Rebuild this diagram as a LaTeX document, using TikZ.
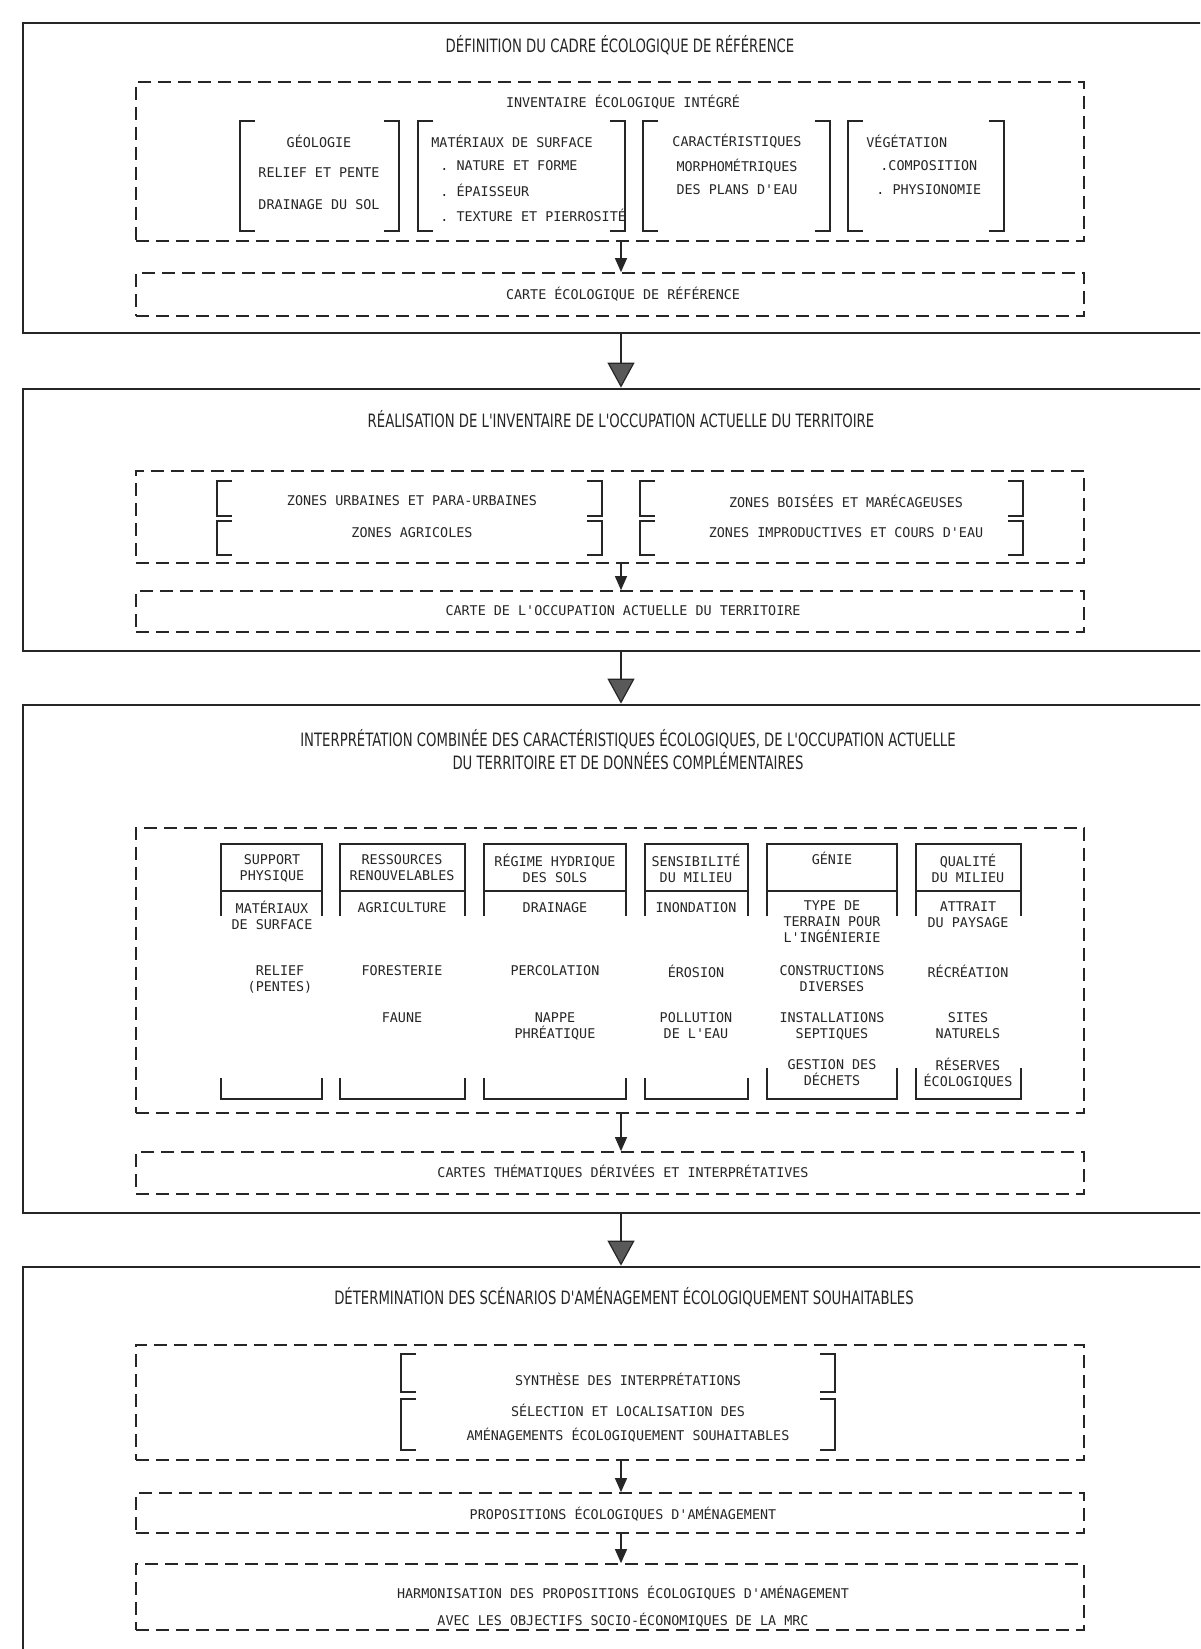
\documentclass[tikz,border=0pt]{standalone}
\usepackage{fontspec}
\setmonofont{DejaVu Sans Mono}
\newfontfamily\titlefont[FakeStretch=0.72]{DejaVu Sans}
\usetikzlibrary{arrows.meta,fit}

\colorlet{ink}{black!85}
\tikzset{
  stage/.style={draw=ink,line width=1.4pt,inner sep=0pt},
  dashbox/.style={draw=ink,line width=0.85pt,dash pattern=on 6.5pt off 3.5pt,inner sep=0pt},
  stagetitle/.style={font=\titlefont\fontsize{9.2}{11.5}\selectfont,text=ink,align=center,inner sep=0pt},
  txt/.style={font=\ttfamily\fontsize{6.7}{8}\selectfont,text=ink,align=center,inner sep=0pt},
  brk/.style={draw=ink,line width=0.75pt},
  flow/.style={draw=ink,line width=0.6pt,-{Triangle[length=7pt,width=6pt]}},
  bigflow/.style={draw=ink,line width=0.6pt,-{Triangle[length=12.5pt,width=13.5pt,fill=black!65]}},
}

% [ ... ] pair: left x, right x, top y, bottom y
\newcommand{\brackets}[4]{%
  \draw[brk] (#1+15,#3) -- (#1,#3) -- (#1,#4) -- (#1+15,#4);
  \draw[brk] (#2-15,#3) -- (#2,#3) -- (#2,#4) -- (#2-15,#4);}

% theme column: left x, right x, top of the lower stubs
\newcommand{\themecol}[3]{%
  \draw[brk] (#1,916) -- (#1,844) -- (#2,844) -- (#2,916);
  \draw[brk] (#1,891) -- (#2,891);
  \draw[brk] (#1,#3) -- (#1,1099) -- (#2,1099) -- (#2,#3);}

\begin{document}
\begin{tikzpicture}[x=0.5pt,y=-0.5pt]
  \clip (0,0) rectangle (1200,1649);
  \fill[white] (0,0) rectangle (1200,1649);
  \coordinate (axis) at (621,0);

  % stage 1
  \node[stage,fit={(23,23) (1210,333)}] (def) {};
  \node[stagetitle] (deft) at (620,45) {DÉFINITION DU CADRE ÉCOLOGIQUE DE RÉFÉRENCE};
  \node[dashbox,fit={(136,82) (1084,241)}] (inv) {};
  \node[txt] (invt) at (623,102) {INVENTAIRE ÉCOLOGIQUE INTÉGRÉ};
  \brackets{240}{399}{121}{231}
  \brackets{418}{625}{121}{231}
  \brackets{643}{830}{121}{231}
  \brackets{848}{1004}{121}{231}
  \node[txt] (geo) at (319,141) {GÉOLOGIE};
  \node[txt] (rel) at (319,173) {RELIEF ET PENTE};
  \node[txt] (drn) at (319,205) {DRAINAGE DU SOL};
  \node[txt,anchor=west] (mat) at (431,141) {MATÉRIAUX DE SURFACE};
  \node[txt,anchor=west] (nat) at (440,166) {. NATURE ET FORME};
  \node[txt,anchor=west] (epa) at (440,190) {. ÉPAISSEUR};
  \node[txt,anchor=west] (tex) at (440,215) {. TEXTURE ET PIERROSITÉ};
  \node[txt] (car) at (737,141) {CARACTÉRISTIQUES};
  \node[txt] (mor) at (737,166) {MORPHOMÉTRIQUES};
  \node[txt] (pla) at (737,190) {DES PLANS D'EAU};
  \node[txt,anchor=west] (veg) at (866,141) {VÉGÉTATION};
  \node[txt,anchor=west] (com) at (880,166) {.COMPOSITION};
  \node[txt,anchor=west] (phy) at (876,190) {. PHYSIONOMIE};
  \node[dashbox,fit={(136,273) (1084,316)}] (map1) {};
  \node[txt] (map1t) at (623,294) {CARTE ÉCOLOGIQUE DE RÉFÉRENCE};
  \draw[flow] (inv.south -| axis) -- (map1.north -| axis);

  % stage 2
  \node[stage,fit={(23,389) (1210,651)}] (real) {};
  \node[stagetitle] (realt) at (621,419) {RÉALISATION DE L'INVENTAIRE DE L'OCCUPATION ACTUELLE DU TERRITOIRE};
  \node[dashbox,fit={(136,471) (1084,563)}] (zones) {};
  \brackets{217}{602}{481}{516}
  \brackets{217}{602}{521}{555}
  \brackets{640}{1023}{481}{516}
  \brackets{640}{1023}{521}{555}
  \node[txt] (urb) at (412,501) {ZONES URBAINES ET PARA-URBAINES};
  \node[txt] (agr) at (412,533) {ZONES AGRICOLES};
  \node[txt] (boi) at (846,501) {ZONES BOISÉES ET MARÉCAGEUSES};
  \node[txt] (imp) at (846,533) {ZONES IMPRODUCTIVES ET COURS D'EAU};
  \node[dashbox,fit={(136,591) (1084,632)}] (map2) {};
  \node[txt] (map2t) at (623,611) {CARTE DE L'OCCUPATION ACTUELLE DU TERRITOIRE};
  \draw[flow] (zones.south -| axis) -- (map2.north -| axis);

  % stage 3
  \node[stage,fit={(23,705) (1210,1213)}] (interp) {};
  \node[stagetitle] (interpt) at (628,750) {INTERPRÉTATION COMBINÉE DES CARACTÉRISTIQUES ÉCOLOGIQUES, DE L'OCCUPATION ACTUELLE\\DU TERRITOIRE ET DE DONNÉES COMPLÉMENTAIRES};
  \node[dashbox,fit={(136,828) (1084,1113)}] (themes) {};
  \themecol{221}{322}{1078}
  \themecol{340}{465}{1078}
  \themecol{484}{626}{1078}
  \themecol{645}{748}{1078}
  \themecol{767}{897}{1068}
  \themecol{916}{1021}{1068}
  % column 1
  \node[txt] (sup) at (272,868) {SUPPORT\\PHYSIQUE};
  \node[txt] (sup1) at (272,915) {MATÉRIAUX\\DE SURFACE};
  \node[txt] (sup2) at (280,979) {RELIEF\\(PENTES)};
  % column 2
  \node[txt] (res) at (402,868) {RESSOURCES\\RENOUVELABLES};
  \node[txt] (res1) at (402,908) {AGRICULTURE};
  \node[txt] (res2) at (402,971) {FORESTERIE};
  \node[txt] (res3) at (402,1018) {FAUNE};
  % column 3
  \node[txt] (hyd) at (555,868) {RÉGIME HYDRIQUE\\DES SOLS};
  \node[txt] (hyd1) at (555,908) {DRAINAGE};
  \node[txt] (hyd2) at (555,971) {PERCOLATION};
  \node[txt] (hyd3) at (555,1026) {NAPPE\\PHRÉATIQUE};
  % column 4
  \node[txt] (sen) at (696,868) {SENSIBILITÉ\\DU MILIEU};
  \node[txt] (sen1) at (696,908) {INONDATION};
  \node[txt] (sen2) at (696,971) {ÉROSION};
  \node[txt] (sen3) at (696,1026) {POLLUTION\\DE L'EAU};
  % column 5
  \node[txt] (gen) at (832,858) {GÉNIE};
  \node[txt] (gen1) at (832,922) {TYPE DE\\TERRAIN POUR\\L'INGÉNIERIE};
  \node[txt] (gen2) at (832,979) {CONSTRUCTIONS\\DIVERSES};
  \node[txt] (gen3) at (832,1026) {INSTALLATIONS\\SEPTIQUES};
  \node[txt] (gen4) at (832,1073) {GESTION DES\\DÉCHETS};
  % column 6
  \node[txt] (qua) at (968,868) {QUALITÉ\\DU MILIEU};
  \node[txt] (qua1) at (968,915) {ATTRAIT\\DU PAYSAGE};
  \node[txt] (qua2) at (968,971) {RÉCRÉATION};
  \node[txt] (qua3) at (968,1026) {SITES\\NATURELS};
  \node[txt] (qua4) at (968,1073) {RÉSERVES\\ÉCOLOGIQUES};
  \node[dashbox,fit={(136,1152) (1084,1194)}] (map3) {};
  \node[txt] (map3t) at (623,1172) {CARTES THÉMATIQUES DÉRIVÉES ET INTERPRÉTATIVES};
  \draw[flow] (themes.south -| axis) -- (map3.north -| axis);

  % stage 4
  \node[stage,fit={(23,1267) (1210,1660)}] (scen) {};
  \node[stagetitle] (scent) at (624,1297) {DÉTERMINATION DES SCÉNARIOS D'AMÉNAGEMENT ÉCOLOGIQUEMENT SOUHAITABLES};
  \node[dashbox,fit={(136,1345) (1084,1460)}] (synth) {};
  \brackets{401}{835}{1354}{1392}
  \brackets{401}{835}{1399}{1450}
  \node[txt] (syn) at (628,1379) {SYNTHÈSE DES INTERPRÉTATIONS};
  \node[txt] (sel) at (628,1410) {SÉLECTION ET LOCALISATION DES};
  \node[txt] (sel2) at (628,1435) {AMÉNAGEMENTS ÉCOLOGIQUEMENT SOUHAITABLES};
  \node[dashbox,fit={(136,1493) (1084,1533)}] (prop) {};
  \node[txt] (propt) at (623,1514) {PROPOSITIONS ÉCOLOGIQUES D'AMÉNAGEMENT};
  \node[dashbox,fit={(136,1564) (1084,1630)}] (harm) {};
  \node[txt] (harmt) at (623,1593) {HARMONISATION DES PROPOSITIONS ÉCOLOGIQUES D'AMÉNAGEMENT};
  \node[txt] (harmt2) at (623,1620) {AVEC LES OBJECTIFS SOCIO-ÉCONOMIQUES DE LA MRC};
  \draw[flow] (synth.south -| axis) -- (prop.north -| axis);
  \draw[flow] (prop.south -| axis) -- (harm.north -| axis);

  % between stages
  \draw[bigflow] (def.south -| axis) -- (real.north -| axis);
  \draw[bigflow] (real.south -| axis) -- (interp.north -| axis);
  \draw[bigflow] (interp.south -| axis) -- (scen.north -| axis);
\end{tikzpicture}
\end{document}
